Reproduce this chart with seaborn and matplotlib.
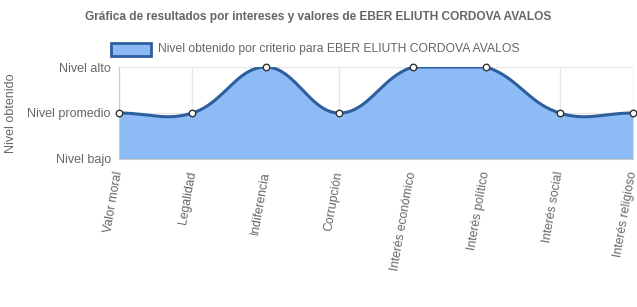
import numpy as np
import pandas as pd
import matplotlib
matplotlib.use("Agg")
import matplotlib.pyplot as plt
import seaborn as sns

categories = ["Valor moral", "Legalidad", "Indiferencia", "Corrupción",
              "Interés económico", "Interés político", "Interés social", "Interés religioso"]
values = [2, 2, 3, 2, 3, 3, 2, 2]
level_ticks = [1, 2, 3]
level_labels = ["Nivel bajo", "Nivel promedio", "Nivel alto"]
title = "Gráfica de resultados por intereses y valores de EBER ELIUTH CORDOVA AVALOS"
series_name = "Nivel obtenido por criterio para EBER ELIUTH CORDOVA AVALOS"

sns.set_style("white")
plt.rcParams['font.family'] = ['Liberation Sans', 'DejaVu Sans']

W, H = 637, 307
fig = plt.figure(figsize=(W / 100, H / 100), dpi=100)
ax = fig.add_axes([119 / W, 1 - 159 / H, (633 - 119) / W, (159 - 67) / H])
xs = np.arange(len(categories))
ax.set_xlim(0, len(categories) - 1)
ax.set_ylim(1, 3)

# Chart.js-style spline (tension 0.4) computed in display space
fig.canvas.draw()
pts = ax.transData.transform(np.column_stack([xs, values]).astype(float))
t = 0.4
n = len(pts)
cp_prev = np.zeros_like(pts)
cp_next = np.zeros_like(pts)
for i in range(n):
    p0 = pts[i - 1] if i > 0 else pts[i]
    p1 = pts[i]
    p2 = pts[i + 1] if i < n - 1 else pts[i]
    d01 = np.hypot(*(p1 - p0))
    d12 = np.hypot(*(p2 - p1))
    tot = d01 + d12
    s01 = d01 / tot if tot else 0
    s12 = d12 / tot if tot else 0
    cp_prev[i] = p1 - t * s01 * (p2 - p0)
    cp_next[i] = p1 + t * s12 * (p2 - p0)
curve = []
u = np.linspace(0, 1, 40)[:, None]
for i in range(n - 1):
    a, b, c, d = pts[i], cp_next[i], cp_prev[i + 1], pts[i + 1]
    seg = (1 - u) ** 3 * a + 3 * (1 - u) ** 2 * u * b + 3 * (1 - u) * u ** 2 * c + u ** 3 * d
    curve.append(seg if i == 0 else seg[1:])
curve = np.vstack(curve)
top = ax.transData.transform((0, 3))[1]
curve[:, 1] = np.minimum(curve[:, 1], top)
curve_data = ax.transData.inverted().transform(curve)
df_curve = pd.DataFrame({"x": curve_data[:, 0], "y": curve_data[:, 1]})

ax.fill_between(df_curve["x"], 1, df_curve["y"], color="#86b8f5", alpha=0.95, lw=0, zorder=2)
sns.lineplot(data=df_curve, x="x", y="y", ax=ax, color="#2d5f9e", lw=2.2, sort=False, zorder=3)
df_pts = pd.DataFrame({"x": xs, "y": values})
sns.scatterplot(data=df_pts, x="x", y="y", ax=ax, s=22, color="white", edgecolor="#333333",
                linewidth=1, zorder=5, clip_on=False)

ax.set_xticks(xs)
ax.set_xticklabels(categories, rotation=80, ha="right", va="center", rotation_mode="anchor",
                   fontsize=8.8, color="#666666")
ax.set_yticks(level_ticks)
ax.set_yticklabels(level_labels, fontsize=9, color="#666666")
ax.tick_params(axis="both", length=5, color="#cccccc", width=1, pad=1)
ax.tick_params(axis="x", pad=4)
ax.grid(True, color="#e6e6e6", lw=1, zorder=0)
ax.set_axisbelow(True)
for s in ["top", "right"]:
    ax.spines[s].set_visible(False)
ax.spines["left"].set_color("#cccccc")
ax.spines["bottom"].set_color("#cccccc")
ax.set_xlabel("")
ax.set_ylabel("Nivel obtenido", fontsize=9, color="#666666")
ax.yaxis.set_label_coords(-0.199, 0.5)

fig.text(0.5, 1 - 17 / H, title, ha="center", va="center", fontsize=8.6, fontweight="bold", color="#666666")
# legend
lx, ly = 111, 49
fig.patches.append(plt.Rectangle((lx / W, 1 - (ly + 7) / H), 40 / W, 13 / H, transform=fig.transFigure,
                                 facecolor="#8bbaf5", edgecolor="#2d5f9e", lw=2))
fig.text((lx + 47) / W, 1 - ly / H, series_name, ha="left", va="center", fontsize=8.7, color="#666666")

fig.savefig("out.png", dpi=100)
